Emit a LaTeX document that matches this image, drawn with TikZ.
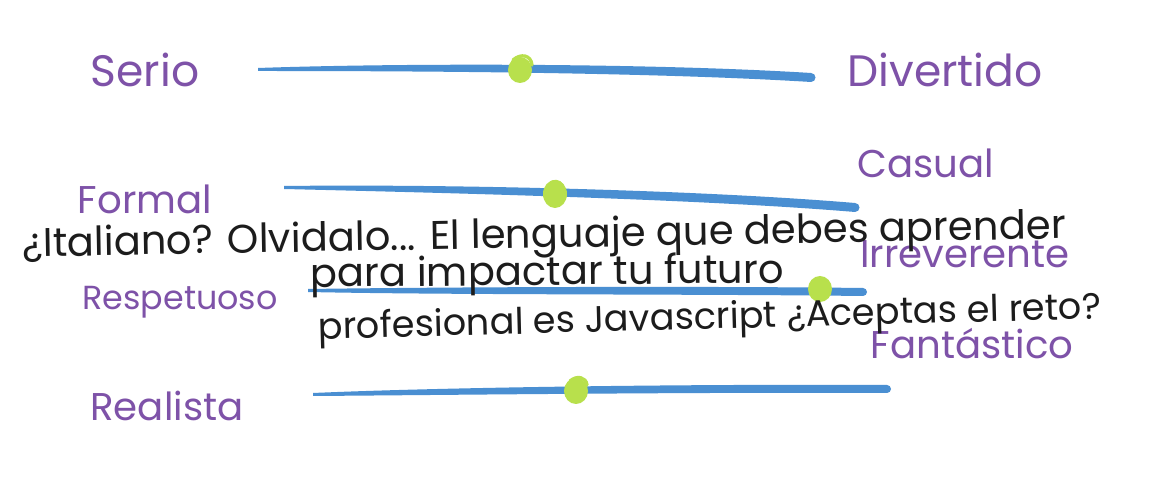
\documentclass[tikz,border=0pt]{standalone}
\usepackage{fontspec}
\setmainfont{Poppins}
\usepackage{tikz}
\usetikzlibrary{positioning}
\definecolor{Ink}{HTML}{1C1C1C}
\definecolor{Plum}{HTML}{7E52A8}
\definecolor{Bar}{HTML}{4A8FD2}
\definecolor{Knob}{HTML}{B8E04C}
\tikzset{
  trait/.style={text=Plum,inner sep=0pt,font=\fontsize{29}{34}\selectfont},
  bigtrait/.style={trait,font=\fontsize{33}{38}\selectfont},
  note/.style={text=Ink,inner sep=0pt,anchor=west,font=\fontsize{28}{32}\selectfont},
  bar/.style={fill=Bar},
  knob/.style={fill=Knob,draw=none},
  curl/.style={draw=Knob,line width=2.5pt,line cap=round}
}
\begin{document}
\begin{tikzpicture}[x=0.75pt,y=-0.75pt]
  \useasboundingbox (0,0) rectangle (1158,498);
  \fill[white] (0,0) rectangle (1158,498);
  % sliders
  \fill[bar] (258,68) .. controls (400,63) and (650,63) .. (811,73) arc[start angle=-90,end angle=90,radius=4.5] .. controls (650,72) and (400,71) .. (258,71) -- cycle;
  \fill[bar] (284,186) .. controls (450,184) and (700,190) .. (855,203) arc[start angle=-90,end angle=90,radius=4.5] .. controls (700,199) and (450,193) .. (284,189) -- cycle;
  \fill[bar] (308,289) .. controls (450,287) and (700,286) .. (863,288) arc[start angle=-90,end angle=90,radius=4] .. controls (700,294) and (450,295) .. (308,292) -- cycle;
  \fill[bar] (313,393) .. controls (450,387) and (700,384) .. (887,385) arc[start angle=-90,end angle=90,radius=4] .. controls (700,392) and (450,395) .. (313,396) -- cycle;
  % knobs
  \fill[knob] (520,70) ellipse[x radius=12,y radius=13];
  \draw[curl] (513,60) .. controls (521,53) and (531,55) .. (532,65);
  \fill[knob] (555,194) ellipse[x radius=12,y radius=14];
  \draw[curl] (552,182) .. controls (558,180) and (563,184) .. (563,189);
  \fill[knob] (820,289) ellipse[x radius=12,y radius=13];
  \fill[knob] (576,391) ellipse[x radius=12,y radius=13];
  \draw[curl] (570,381) .. controls (577,375) and (586,377) .. (587,385);
  % purple labels
  \node[bigtrait] (serio) at (145,70) {Serio};
  \node[bigtrait] (divertido) at (945,70) {Divertido};
  \node[trait] (casual) at (926,163) {Casual};
  \node[trait] (formal) at (145,199) {Formal};
  \node[trait] (irreverente) at (965,254) {Irreverente};
  \node[trait,font=\fontsize{25}{30}\selectfont] (respetuoso) at (180,302) {Respetuoso};
  \node[trait] (fantastico) at (972,344) {Fantástico};
  \node[trait] (realista) at (167,406) {Realista};
  % black overlay text
  \node[note,rotate=1,font=\fontsize{30}{34}\selectfont] (linea) at (22,247) {¿Italiano? Olvidalo... El lenguaje que debes aprender};
  \node[note,rotate=0.5,font=\fontsize{30}{34}\selectfont] (lineb) at (310,277) {para impactar tu futuro};
  \node[note,rotate=1.5,font=\fontsize{27.5}{32}\selectfont] (linec) at (318,330) {profesional es Javascript ¿Aceptas el reto?};
\end{tikzpicture}
\end{document}
